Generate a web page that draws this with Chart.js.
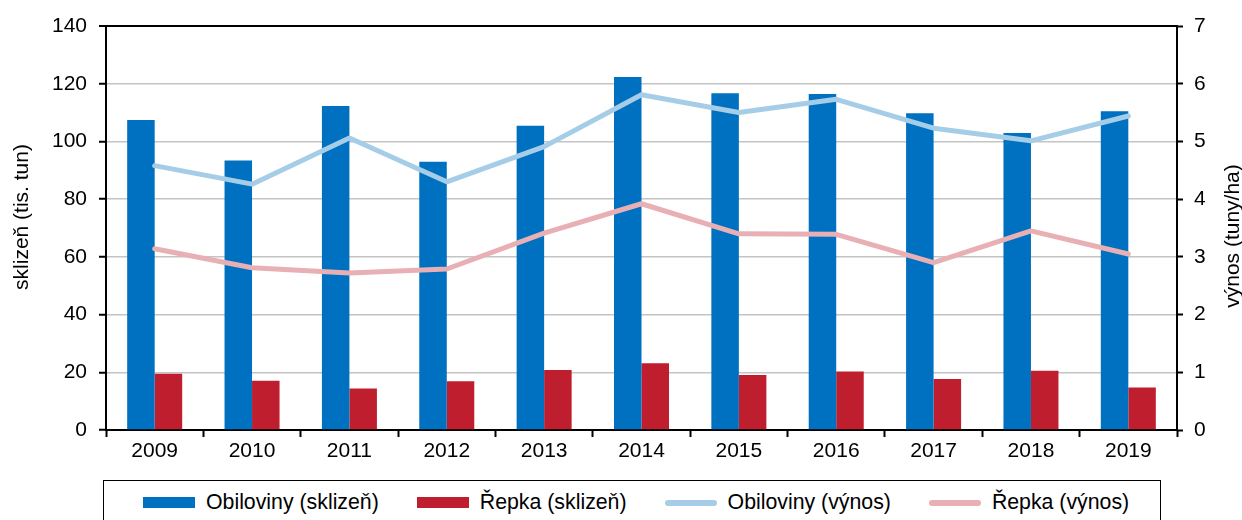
<!DOCTYPE html>
<html>
<head>
<meta charset="utf-8">
<script src="https://cdn.jsdelivr.net/npm/chart.js@4.4.0/dist/chart.umd.min.js"></script>
<style>
    body { margin: 0; background: #fff; }
    #wrap { position: relative; width: 1242px; height: 520px; overflow: hidden; }
    #legend {
        position: absolute; left: 103px; top: 480px; width: 1058px; height: 70px;
        box-sizing: border-box; border: 1.5px solid #000; background: #fff;
        display: flex; align-items: flex-start; padding: 9px 0 0 39px;
        font: 21.3px "Liberation Sans", Arial, sans-serif; color: #000; line-height: 25px;
        white-space: nowrap; overflow: hidden;
    }
    #legend .item { display: flex; flex-shrink: 0; align-items: center; margin-right: 38px; }
    #legend .item:last-child { margin-right: 0; }
    #legend .sw { flex-shrink: 0; width: 52px; margin-right: 11px; }
</style>
</head>
<body>
<div id="wrap">
    <canvas id="chart" width="1242" height="520"></canvas>
    <div id="legend"></div>
</div>
<script>
// data
var years = ['2009', '2010', '2011', '2012', '2013', '2014', '2015', '2016', '2017', '2018', '2019'];
var obilovinySklizen = [107.4, 93.4, 112.3, 93.0, 105.4, 122.3, 116.7, 116.4, 109.8, 102.9, 110.5];
var repkaSklizen = [19.5, 17.1, 14.4, 16.9, 20.8, 23.1, 19.1, 20.3, 17.7, 20.5, 14.7];
var obilovinyVynos = [4.58, 4.26, 5.06, 4.30, 4.91, 5.81, 5.50, 5.73, 5.23, 5.01, 5.44];
var repkaVynos = [3.14, 2.81, 2.72, 2.79, 3.41, 3.92, 3.40, 3.39, 2.90, 3.45, 3.05];
var leftTicks = [0, 20, 40, 60, 80, 100, 120, 140];
var rightTicks = [0, 1, 2, 3, 4, 5, 6, 7];
var leftTitle = 'sklizeň (tis. tun)';
var rightTitle = 'výnos (tuny/ha)';

var FONT = '"Liberation Sans", Arial, sans-serif';

var axisTitles = {
    id: 'axisTitles',
    afterDraw: function (chart) {
        var ctx = chart.ctx;
        ctx.save();
        ctx.fillStyle = '#000';
        ctx.font = '21px ' + FONT;
        ctx.textAlign = 'center';
        ctx.textBaseline = 'middle';
        ctx.translate(22, 217);
        ctx.rotate(-Math.PI / 2);
        ctx.fillText(leftTitle, 0, 0);
        ctx.restore();

        ctx.save();
        ctx.fillStyle = '#000';
        ctx.font = '21px ' + FONT;
        ctx.textAlign = 'center';
        ctx.textBaseline = 'middle';
        ctx.translate(1233, 236);
        ctx.rotate(-Math.PI / 2);
        ctx.fillText(rightTitle, 0, 0);
        ctx.restore();
    }
};

var chart = new Chart(document.getElementById('chart'), {
    type: 'bar',
    data: {
        labels: years,
        datasets: [{
                type: 'line',
                label: 'Obiloviny (výnos)',
                data: obilovinyVynos,
                yAxisID: 'y1',
                borderColor: '#a6cde8',
                backgroundColor: '#a6cde8',
                borderWidth: 5,
                borderCapStyle: 'round',
                borderJoinStyle: 'round',
                pointRadius: 0,
                tension: 0,
                order: 1
            }, {
                type: 'line',
                label: 'Řepka (výnos)',
                data: repkaVynos,
                yAxisID: 'y1',
                borderColor: '#e8afb4',
                backgroundColor: '#e8afb4',
                borderWidth: 5,
                borderCapStyle: 'round',
                borderJoinStyle: 'round',
                pointRadius: 0,
                tension: 0,
                order: 2
            }, {
                label: 'Obiloviny (sklizeň)',
                data: obilovinySklizen,
                backgroundColor: '#0070c0',
                categoryPercentage: 0.565,
                barPercentage: 1,
                order: 3
            }, {
                label: 'Řepka (sklizeň)',
                data: repkaSklizen,
                backgroundColor: '#be1e2d',
                categoryPercentage: 0.565,
                barPercentage: 1,
                order: 4
            }]
    },
    options: {
        responsive: false,
        animation: false,
        layout: {
            padding: { top: 26, left: 0, right: 0, bottom: 0 }
        },
        plugins: {
            legend: { display: false },
            tooltip: { enabled: false }
        },
        scales: {
            x: {
                grid: {
                    drawOnChartArea: false,
                    tickLength: 7,
                    tickColor: '#000',
                    tickWidth: 2
                },
                border: { color: '#000', width: 2 },
                ticks: {
                    color: '#000',
                    font: { family: FONT, size: 21 },
                    padding: 2,
                    maxRotation: 0
                },
                afterFit: function (scale) {
                    scale.height = 90;
                }
            },
            y: {
                position: 'left',
                min: leftTicks[0],
                max: leftTicks[leftTicks.length - 1],
                afterBuildTicks: function (scale) {
                    scale.ticks = leftTicks.map(function (v) { return {value: v}; });
                },
                grid: {
                    color: function (c) { return c.tick && c.tick.value === 140 ? '#000' : '#c4c4c4'; },
                    lineWidth: function (c) { return c.tick && c.tick.value === 140 ? 2 : 1.5; },
                    tickLength: 7,
                    tickColor: '#000',
                    tickWidth: 2
                },
                border: { color: '#000', width: 2 },
                ticks: {
                    color: '#000',
                    font: { family: FONT, size: 21 },
                    padding: 12
                },
                afterFit: function (scale) {
                    scale.width = 106;
                }
            },
            y1: {
                position: 'right',
                min: rightTicks[0],
                max: rightTicks[rightTicks.length - 1],
                afterBuildTicks: function (scale) {
                    scale.ticks = rightTicks.map(function (v) { return {value: v}; });
                },
                grid: {
                    drawOnChartArea: false,
                    tickLength: 6,
                    tickColor: '#000',
                    tickWidth: 2
                },
                border: { color: '#000', width: 2 },
                ticks: {
                    color: '#000',
                    font: { family: FONT, size: 21 },
                    padding: 11
                },
                afterFit: function (scale) {
                    scale.width = 65;
                }
            }
        }
    },
    plugins: [axisTitles]
});

// legend in a framed box, built from the datasets (bars first, like the original)
var legendOrder = [2, 3, 0, 1];
var html = '';
legendOrder.forEach(function (i) {
    var ds = chart.data.datasets[i];
    var sw;
    if (ds.type === 'line') {
        sw = '<span class="sw" style="height:6px;border-radius:3px;background:' + ds.borderColor + '"></span>';
    } else {
        sw = '<span class="sw" style="height:11px;background:' + ds.backgroundColor + '"></span>';
    }
    html += '<span class="item">' + sw + '<span>' + ds.label + '</span></span>';
});
document.getElementById('legend').innerHTML = html;
</script>
</body>
</html>
